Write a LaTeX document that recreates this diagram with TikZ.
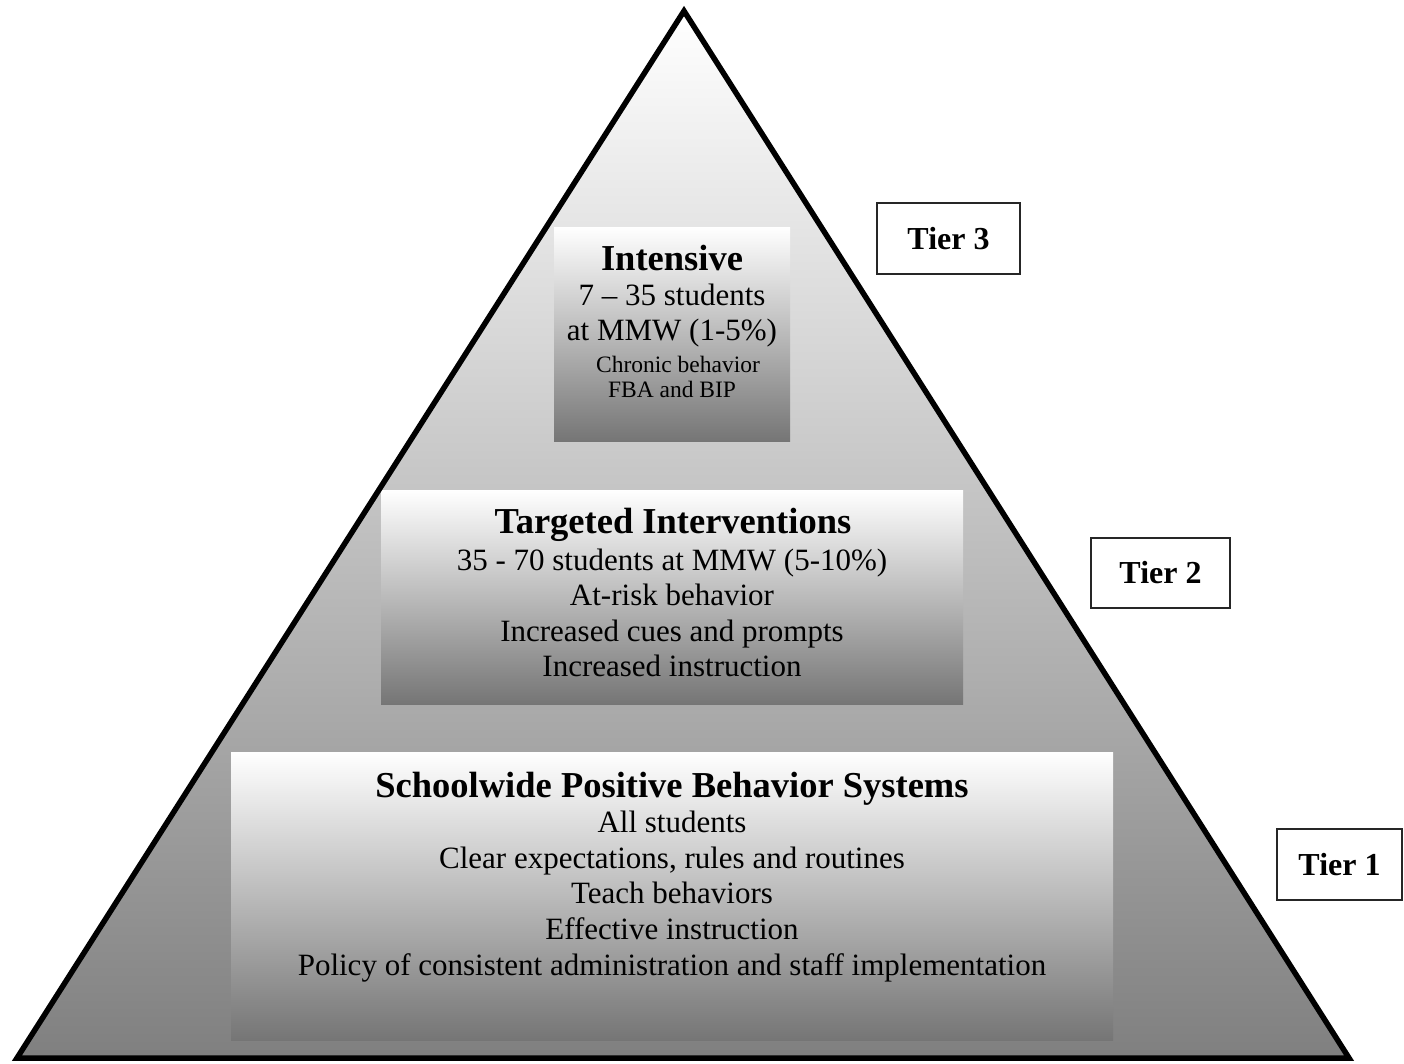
\documentclass[tikz,border=0pt]{standalone}
\usepackage{fontspec}
\setmainfont{Liberation Serif}
\begin{document}
\begin{tikzpicture}[x=1pt,y=-1pt,
  panel/.style={rectangle, draw=none, top color=white, bottom color=black!54, inner sep=0pt},
  tierbox/.style={rectangle, draw=black!85, line width=1.8pt, fill=white, inner sep=0pt, font=\fontsize{32}{38}\selectfont\bfseries},
  ttl/.style={anchor=base, inner sep=0pt, font=\fontsize{36.5}{42}\selectfont\bfseries},
  body/.style={anchor=base, inner sep=0pt, font=\fontsize{31}{36}\selectfont},
  small/.style={anchor=base, inner sep=0pt, font=\fontsize{23.5}{27}\selectfont}]
\useasboundingbox (0,0) rectangle (1404,1063);
% pyramid
\coordinate (apex) at (684,11);
\coordinate (bl) at (17,1058);
\coordinate (br) at (1349,1058);
\shade[top color=white, bottom color=black!50] (apex) -- (bl) -- (br) -- cycle;
% panels
\node[panel, minimum width=236pt, minimum height=214pt] (intbox) at (672,334) {};
\node[panel, minimum width=582pt, minimum height=214pt] (tarbox) at (672,597) {};
\node[panel, minimum width=882pt, minimum height=288pt] (swbox) at (672,896) {};
\draw[line width=5.5pt, line join=miter] (apex) -- (bl) -- (br) -- cycle;
% Intensive
\node[ttl] (i1) at (672,270) {Intensive};
\node[body] (i2) at (672,305) {7 – 35 students};
\node[body] (i3) at (672,340) {at MMW (1-5\%)};
\node[small] (i4) at (678,372) {Chronic behavior};
\node[small] (i5) at (672,397) {FBA and BIP};
% Targeted
\node[ttl] (t1) at (673,533) {Targeted Interventions};
\node[body] (t2) at (672,570) {35 - 70 students at MMW (5-10\%)};
\node[body] (t3) at (672,605) {At-risk behavior};
\node[body] (t4) at (672,641) {Increased cues and prompts};
\node[body] (t5) at (672,676) {Increased instruction};
% Schoolwide
\node[ttl] (s1) at (672,797) {Schoolwide Positive Behavior Systems};
\node[body] (s2) at (672,832) {All students};
\node[body] (s3) at (672,868) {Clear expectations, rules and routines};
\node[body] (s4) at (672,903) {Teach behaviors};
\node[body] (s5) at (672,939) {Effective instruction};
\node[body] (s6) at (672,975) {Policy of consistent administration and staff implementation};
% tiers
\node[tierbox, minimum width=143pt, minimum height=71pt] (tier3) at (948.5,238.5) {Tier 3};
\node[tierbox, minimum width=139pt, minimum height=70pt] (tier2) at (1160.5,573) {Tier 2};
\node[tierbox, minimum width=125pt, minimum height=71pt] (tier1) at (1339.5,864.5) {Tier 1};
\end{tikzpicture}
\end{document}
